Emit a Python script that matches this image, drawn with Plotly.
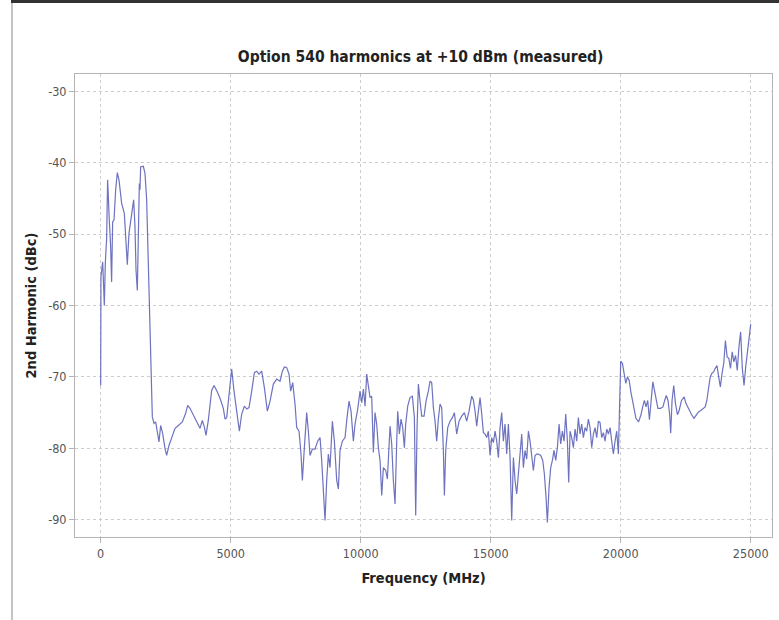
import plotly.graph_objects as go

freq_mhz = [
    0, 10, 76, 140, 178, 229, 267, 300, 330, 380, 420, 460, 512, 576, 640, 704,
    806, 909, 973, 1024, 1088, 1191, 1268, 1319, 1358, 1409, 1447, 1486, 1512,
    1537, 1640, 1704, 1768, 1806, 1870, 1935, 1986, 2050, 2114, 2178, 2242, 2306,
    2383, 2473, 2537, 2627, 2729, 2858, 2986, 3140, 3268, 3345, 3434, 3563, 3691,
    3819, 3909, 3986, 4050, 4139, 4268, 4358, 4460, 4589, 4717,
    4782, 4846, 4936, 5038, 5128, 5231, 5333, 5423, 5526, 5615, 5705, 5808, 5910,
    6000, 6090, 6192, 6295, 6410, 6513, 6641, 6769, 6897, 6987, 7064, 7154, 7243,
    7307, 7384, 7474, 7538, 7628, 7705, 7756, 7833, 7923, 7987, 8051, 8141, 8243,
    8346, 8436, 8500, 8564, 8628, 8692, 8756, 8820, 8910, 8987, 9077, 9141, 9205,
    9295, 9397, 9474, 9551, 9628, 9718, 9782, 9885, 9974,
    10038, 10103, 10167, 10231, 10295, 10359, 10423, 10487, 10551, 10615, 10679,
    10744, 10808, 10872, 10962, 11026, 11128, 11192, 11256, 11320, 11385, 11423,
    11487, 11551, 11615, 11679, 11731, 11808, 11897, 11987, 12064, 12115, 12167,
    12218, 12282, 12346, 12436, 12513, 12602, 12667, 12731, 12795, 12859, 12923,
    12987, 13051, 13115, 13180, 13218, 13269, 13346, 13436, 13526, 13603, 13692,
    13782, 13885, 13987, 14077, 14167, 14269, 14333, 14397, 14462, 14526, 14590,
    14654, 14718, 14782, 14846, 14910, 14974,
    15038, 15103, 15167, 15231, 15295, 15359, 15423, 15487, 15551, 15615, 15679,
    15744, 15808, 15872, 15936, 16000, 16064, 16128, 16192, 16256, 16320, 16385,
    16449, 16513, 16577, 16641, 16705, 16769, 16833, 16923, 17000, 17064, 17128,
    17179, 17243, 17307, 17372, 17436, 17500, 17564, 17628, 17692, 17756, 17821,
    17885, 17949, 18000, 18051, 18115, 18180, 18244, 18308, 18372, 18436, 18500,
    18564, 18628, 18692, 18756, 18820, 18885, 18949, 19013, 19077, 19141, 19205,
    19269, 19333, 19397, 19462, 19526, 19590, 19654, 19718, 19782, 19846, 19910,
    19962, 20000,
    20065, 20130, 20195, 20260, 20325, 20390, 20455, 20520, 20585, 20688, 20779,
    20844, 20909, 20974, 21039, 21104, 21169, 21234, 21299, 21364, 21429, 21533,
    21624, 21689, 21754, 21818, 21883, 21922, 21974, 22039, 22104, 22182, 22247,
    22338, 22442, 22507, 22572, 22637, 22728, 22819, 22897, 22988, 23079, 23157,
    23248, 23312, 23377, 23442, 23507, 23572, 23637, 23702, 23767, 23832, 23897,
    23962, 24027, 24092, 24157, 24222, 24287, 24352, 24417, 24482, 24547, 24612,
    24677, 24742, 24807, 24872, 24937, 25000,
]

harmonic_dbc = [
    -71.2, -56.0, -53.9, -60.0, -54.0, -50.6, -42.4, -46.5, -48.0, -51.5, -56.7,
    -48.3, -48.0, -43.8, -41.4, -42.4, -45.7, -47.1, -51.3, -54.3, -49.9, -47.1,
    -45.2, -49.0, -55.0, -57.9, -49.9, -42.9, -43.8, -40.6, -40.5, -41.5, -45.2,
    -49.9, -59.3, -68.6, -75.6, -76.5, -76.3, -77.7, -79.1, -76.8, -77.9, -80.0,
    -81.0, -79.6, -78.4, -77.2, -76.8, -76.3, -75.1, -74.0, -74.4, -75.4, -76.3,
    -77.2, -76.1, -77.0, -78.2, -76.1, -71.9, -71.2, -71.9, -73.0, -74.4,
    -75.9, -75.7, -72.0, -68.9, -72.0, -75.0, -77.6, -75.2, -74.1, -74.5, -74.3,
    -72.0, -69.4, -69.2, -69.6, -69.2, -71.5, -74.8, -73.4, -71.0, -70.3, -70.6,
    -69.2, -68.6, -68.7, -69.6, -72.0, -70.8, -73.8, -77.1, -77.6, -80.8, -84.5,
    -79.9, -75.0, -77.6, -81.0, -80.1, -80.1, -79.0, -78.5, -81.7, -85.5, -90.1,
    -84.5, -80.8, -82.7, -76.2, -79.0, -84.5, -85.7, -80.3, -79.0, -78.5, -75.7,
    -73.4, -74.8, -79.0, -76.6, -74.5, -72.0,
    -73.6, -71.7, -74.1, -69.6, -71.0, -72.9, -72.7, -80.6, -75.0, -76.6, -79.9,
    -81.7, -86.6, -82.7, -83.1, -84.3, -76.9, -79.4, -84.5, -87.8, -79.0, -74.8,
    -78.0, -75.9, -77.1, -79.9, -76.6, -74.1, -72.9, -72.7, -75.7, -89.4, -77.1,
    -71.0, -73.4, -75.5, -75.5, -73.4, -72.0, -70.6, -70.8, -74.3, -76.2, -79.0,
    -75.9, -73.8, -74.3, -80.3, -86.6, -80.3, -77.1, -76.2, -75.7, -75.0, -78.0,
    -76.2, -75.5, -75.0, -76.2, -74.8, -72.7, -73.2, -74.8, -76.9, -74.8, -72.9,
    -75.2, -77.8, -78.0, -78.5, -77.6, -81.0,
    -78.5, -79.2, -77.6, -79.0, -81.3, -77.1, -75.0, -79.0, -76.6, -80.8, -76.6,
    -81.3, -90.1, -81.3, -84.5, -86.4, -83.6, -80.8, -78.0, -82.7, -80.3, -81.5,
    -77.6, -79.0, -80.8, -83.1, -81.0, -80.8, -80.8, -81.0, -81.7, -83.6, -86.9,
    -90.4, -85.5, -82.7, -81.7, -80.3, -81.7, -79.9, -76.6, -79.4, -77.6, -79.0,
    -75.2, -79.0, -84.8, -77.6, -78.5, -79.9, -77.3, -79.0, -75.7, -78.0, -76.6,
    -78.5, -77.1, -77.6, -75.9, -77.1, -79.9, -78.0, -77.1, -78.5, -76.2, -76.4,
    -78.5, -77.8, -79.0, -77.3, -78.0, -77.1, -79.0, -80.8, -79.0, -77.6, -80.8,
    -72.0, -67.8,
    -68.1, -69.3, -70.9, -70.0, -70.5, -72.1, -73.3, -74.7, -75.8, -76.3, -75.3,
    -74.2, -73.3, -74.2, -73.3, -76.0, -73.3, -70.7, -71.9, -73.3, -74.4, -74.4,
    -74.2, -73.3, -72.6, -73.3, -75.3, -77.9, -73.3, -71.2, -73.7, -75.3, -74.7,
    -73.3, -72.8, -73.7, -74.2, -74.7, -75.3, -75.8, -75.3, -74.9, -74.7, -74.4,
    -74.2, -73.3, -71.4, -70.0, -69.5, -69.3, -68.8, -68.4, -70.0, -71.4, -69.5,
    -68.1, -64.9, -67.2, -67.4, -68.8, -66.5, -67.9, -67.0, -69.1, -65.8, -63.7,
    -68.8, -71.2, -68.6, -66.3, -64.0, -62.6,
]

x_ticks = [0, 5000, 10000, 15000, 20000, 25000]
y_ticks = [-90, -80, -70, -60, -50, -40, -30]

title_text = "Option 540 harmonics at +10 dBm (measured)"
x_title = "Frequency (MHz)"
y_title = "2nd Harmonic (dBc)"

FONT = "DejaVu Sans Condensed, DejaVu Sans, sans-serif"

fig = go.Figure()
fig.add_trace(go.Scatter(
    x=freq_mhz, y=harmonic_dbc, mode="lines",
    line=dict(color="#5f64ba", width=1.2),
    opacity=0.9, showlegend=False, hoverinfo="skip",
))

axis_common = dict(
    showgrid=True, gridcolor="#cccccc", gridwidth=1, griddash="dot",
    showline=True, linecolor="#b4b4b4", linewidth=1, mirror=True,
    ticks="outside", ticklen=5, tickcolor="#b4b4b4", tickwidth=1,
    zeroline=False,
    tickfont=dict(family=FONT, size=12.5, color="#555555"),
)

fig.update_xaxes(
    range=[-988, 25818], tickvals=x_ticks, ticktext=[str(v) for v in x_ticks],
    title=dict(text="<b>" + x_title + "</b>", standoff=12,
               font=dict(family=FONT, size=14.5, color="#222222")),
    automargin=False,
    **axis_common,
)
fig.update_yaxes(
    range=[-92.42, -27.58], tickvals=y_ticks, ticktext=[str(v) for v in y_ticks],
    title=dict(text="<b>" + y_title + "</b>", standoff=8,
               font=dict(family=FONT, size=14.5, color="#222222")),
    automargin=False,
    **axis_common,
)

L, R, T, B = 75, 7, 74, 83
W, H = 779, 620
pw, ph = W - L - R, H - T - B


def px_x(px):
    return (px - L) / pw


def px_y(py):
    return (H - B - py) / ph


fig.update_layout(
    width=W, height=H,
    margin=dict(l=L, r=R, t=T, b=B, autoexpand=False),
    paper_bgcolor="white", plot_bgcolor="white",
    title=dict(text="<b>" + title_text + "</b>", x=0.54, xanchor="center",
               y=1 - 57 / H, yanchor="middle",
               font=dict(family=FONT, size=15.5, color="#222222")),
    shapes=[
        dict(type="rect", xref="paper", yref="paper",
             x0=px_x(11), x1=px_x(779), y0=px_y(3), y1=px_y(0),
             fillcolor="#333333", line=dict(width=0), layer="above"),
        dict(type="line", xref="paper", yref="paper",
             x0=px_x(12), x1=px_x(12), y0=px_y(3), y1=px_y(620),
             line=dict(color="#c4c4c4", width=2), layer="above"),
    ],
)

fig.write_html("out.html")
